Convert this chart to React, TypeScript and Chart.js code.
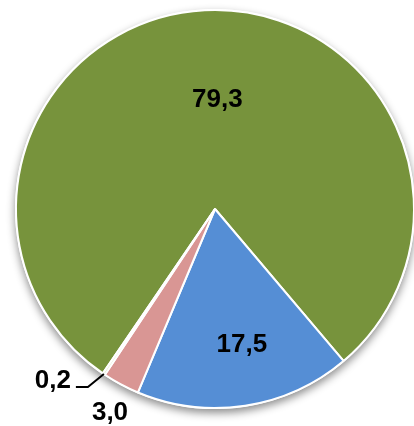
import React, { useEffect, useRef } from "react";
import { Chart, registerables } from "chart.js";

Chart.register(...registerables);

const categories = ["A", "B", "C", "D"];
const values = [79.3, 17.5, 3.0, 0.2];
const valueLabels = ["79,3", "17,5", "3,0", "0,2"];
const colors = ["#77933C", "#558ED5", "#D99694", "#D7E4BD"];

const shadowPlugin = {
  id: "pieShadow",
  beforeDatasetsDraw(chart: any) {
    const meta = chart.getDatasetMeta(0);
    const arc = meta.data[0];
    if (!arc) return;
    const { x, y, outerRadius } = arc.getProps(["x", "y", "outerRadius"], true);
    const ctx = chart.ctx;
    ctx.save();
    ctx.shadowColor = "rgba(0,0,0,0.45)";
    ctx.shadowBlur = 9;
    ctx.shadowOffsetY = 4;
    ctx.fillStyle = "#ffffff";
    ctx.beginPath();
    ctx.arc(x, y, outerRadius + 1, 0, Math.PI * 2);
    ctx.fill();
    ctx.restore();
  },
};

const labelPlugin = {
  id: "pieLabels",
  afterDatasetsDraw(chart: any) {
    const meta = chart.getDatasetMeta(0);
    const ctx = chart.ctx;
    ctx.save();
    ctx.font = "bold 26px 'Liberation Sans', Arial, sans-serif";
    ctx.fillStyle = "#000";
    ctx.textBaseline = "middle";
    const factors = [0.55, 0.69, 1.16, 0];
    const dx = [8, 6, 4, 0];
    meta.data.forEach((arc: any, i: number) => {
      const { x, y, startAngle, endAngle, outerRadius } = arc.getProps(
        ["x", "y", "startAngle", "endAngle", "outerRadius"],
        true
      );
      const mid = (startAngle + endAngle) / 2;
      if (i === 3) {
        const ex = x + Math.cos(mid) * outerRadius;
        const ey = y + Math.sin(mid) * outerRadius;
        const bx = ex - 16;
        const by = ey + 13;
        ctx.strokeStyle = "#000";
        ctx.lineWidth = 2;
        ctx.beginPath();
        ctx.moveTo(ex, ey);
        ctx.lineTo(bx, by);
        ctx.lineTo(bx - 12, by);
        ctx.stroke();
        ctx.textAlign = "right";
        ctx.fillText(valueLabels[i], bx - 17, by - 6);
      } else {
        const f = factors[i];
        const lx = x + Math.cos(mid) * outerRadius * f + dx[i];
        const ly = y + Math.sin(mid) * outerRadius * f;
        ctx.textAlign = "center";
        ctx.fillText(valueLabels[i], lx, ly);
      }
    });
    ctx.restore();
  },
};

export default function App() {
  const ref = useRef<HTMLCanvasElement | null>(null);
  useEffect(() => {
    document.body.style.overflow = "hidden";
    const chart = new Chart(ref.current as HTMLCanvasElement, {
      type: "pie",
      data: {
        labels: categories,
        datasets: [
          {
            data: values,
            backgroundColor: colors,
            borderColor: "#ffffff",
            borderWidth: 2,
          },
        ],
      },
      options: {
        animation: false,
        responsive: true,
        maintainAspectRatio: false,
        rotation: 214.3,
        layout: { padding: { left: 15, right: 15, top: 9, bottom: 17 } },
        plugins: {
          legend: { display: false },
          tooltip: { enabled: false },
          title: { display: false },
        },
      },
      plugins: [shadowPlugin, labelPlugin],
    });
    return () => chart.destroy();
  }, []);
  return (
    <div style={{ position: "fixed", left: 0, top: 0, width: 430, height: 426, background: "#fff" }}>
      <canvas ref={ref} />
    </div>
  );
}
